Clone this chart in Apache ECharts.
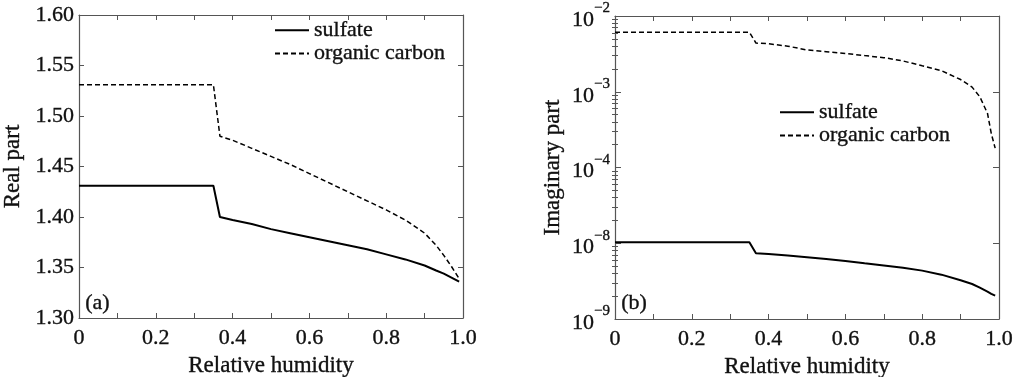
<!DOCTYPE html>
<html><head><meta charset="utf-8">
<script src="https://cdn.jsdelivr.net/npm/echarts@6/dist/echarts.min.js"></script>
<style>html,body{margin:0;padding:0;background:#fff}#c{width:1023px;height:377px}</style>
</head><body><div id="c"></div>
<script>
// Relative humidity (x)
const rh = [0, 0.35, 0.367, 0.4, 0.45, 0.5, 0.55, 0.6, 0.65, 0.7, 0.75, 0.8, 0.85, 0.9, 0.93, 0.95, 0.97, 0.98, 0.99];
// (a) real part
const sulfateReal = [1.431, 1.431, 1.400, 1.397, 1.393, 1.388, 1.384, 1.380, 1.376, 1.372, 1.368, 1.363, 1.358, 1.352, 1.347, 1.344, 1.340, 1.338, 1.336];
const organicReal = [1.531, 1.531, 1.480, 1.476, 1.468, 1.460, 1.452, 1.443, 1.434, 1.425, 1.416, 1.407, 1.397, 1.384, 1.372, 1.362, 1.351, 1.345, 1.339];
// (b) imaginary part
const sulfateImag = [1.03e-8, 1.03e-8, 7.4e-9, 7.2e-9, 6.9e-9, 6.55e-9, 6.2e-9, 5.85e-9, 5.45e-9, 5.1e-9, 4.75e-9, 4.35e-9, 3.85e-9, 3.25e-9, 2.9e-9, 2.6e-9, 2.3e-9, 2.15e-9, 2.03e-9];
const organicImag = [6.1e-3, 6.1e-3, 4.4e-3, 4.3e-3, 4.0e-3, 3.56e-3, 3.38e-3, 3.2e-3, 3.0e-3, 2.82e-3, 2.55e-3, 2.2e-3, 1.9e-3, 1.45e-3, 1.15e-3, 8.6e-4, 5.2e-4, 2.8e-4, 1.8e-4];
// tick labels (exponents) of the broken log axis in (b), bottom to top
const imagExponents = [-9, -8, -4, -3, -2];
const seriesNames = ['sulfate', 'organic carbon'];

// broken log axis: decades 1e-9..1e-8 then 1e-4..1e-2 placed right above
function pos(v) { const l = Math.log10(v); return l >= -4.5 ? l - 3 : l; }
const posMin = -9, posMax = -5;
function expAt(p) { return imagExponents[Math.round(p) - posMin]; }

const minorPos = [];
for (let d = posMin; d < posMax; d++) for (let k = 2; k <= 9; k++) minorPos.push(d + Math.log10(k));

const FONT = 'Liberation Serif';
const FS = 22;
const axisColor = '#555';
const heavy = {textBorderColor: '#111', textBorderWidth: 0.35};
const txt = Object.assign({fontFamily: FONT, fontSize: FS, color: '#111'}, heavy);
const nameTxt = Object.assign({}, txt, {fontSize: 23});

function xAxes(gi) {
  return [{
    type: 'value', gridIndex: gi, min: 0, max: 1, interval: 0.1, position: 'bottom',
    name: 'Relative humidity', nameLocation: 'middle', nameGap: 33,
    nameTextStyle: nameTxt,
    axisLine: {show: true, onZero: false, lineStyle: {color: axisColor, width: 1.2}},
    axisTick: {inside: true, length: 5, lineStyle: {color: axisColor}},
    axisLabel: Object.assign({margin: 9, formatter: v => { const t = Math.round(v * 10); return t % 2 ? '' : (t === 0 ? '0' : (t / 10).toFixed(1)); }}, txt),
    splitLine: {show: false}
  }, {
    type: 'value', gridIndex: gi, min: 0, max: 1, interval: 0.1, position: 'top',
    axisLine: {show: true, onZero: false, lineStyle: {color: axisColor, width: 1.2}},
    axisTick: {inside: true, length: 5, lineStyle: {color: axisColor}},
    axisLabel: {show: false}, splitLine: {show: false}
  }];
}

const legendBase = {orient: 'vertical', itemWidth: 34, itemHeight: 12, itemGap: 1, padding: 0,
  data: seriesNames, textStyle: Object.assign({}, txt), selectedMode: false,
  itemStyle: {color: 'rgba(0,0,0,0)', borderColor: 'rgba(0,0,0,0)', borderWidth: 0}};

const option = {
  animation: false,
  backgroundColor: '#fff',
  grid: [
    {left: 79, top: 15, width: 384, height: 303, outerBoundsMode: 'none', containLabel: false},
    {left: 615, top: 16, width: 384, height: 303, outerBoundsMode: 'none', containLabel: false}
  ],
  xAxis: [...xAxes(0), ...xAxes(1)],
  yAxis: [
    {
      type: 'value', gridIndex: 0, min: 1.30, max: 1.60, interval: 0.05, position: 'left',
      name: 'Real part', nameLocation: 'middle', nameGap: 55, nameRotate: 90,
      nameTextStyle: nameTxt,
      axisLine: {show: true, onZero: false, lineStyle: {color: axisColor, width: 1.2}},
      axisTick: {inside: true, length: 5, lineStyle: {color: axisColor}},
      axisLabel: Object.assign({margin: 5, formatter: v => v.toFixed(2)}, txt),
      splitLine: {show: false}
    },
    {
      type: 'value', gridIndex: 0, min: 1.30, max: 1.60, interval: 0.05, position: 'right',
      axisLine: {show: true, onZero: false, lineStyle: {color: axisColor, width: 1.2}},
      axisTick: {inside: true, length: 5, lineStyle: {color: axisColor}},
      axisLabel: {show: false}, splitLine: {show: false}
    },
    {
      type: 'value', gridIndex: 1, min: posMin, max: posMax, interval: 1, position: 'left',
      name: 'Imaginary part', nameLocation: 'middle', nameGap: 51, nameRotate: 90,
      nameTextStyle: nameTxt,
      axisLine: {show: true, onZero: false, lineStyle: {color: axisColor, width: 1.2}},
      axisTick: {inside: true, length: 6, lineStyle: {color: axisColor}},
      axisLabel: {margin: 5, fontFamily: FONT, color: '#111',
        formatter: v => '{b|10}{s|\u2212' + Math.abs(expAt(v)) + '}',
        rich: {b: Object.assign({fontFamily: FONT, fontSize: FS, color: '#111', padding: [8, 0, 0, 0]}, heavy),
               s: Object.assign({fontFamily: FONT, fontSize: 15, color: '#111', verticalAlign: 'top'}, heavy)}},
      splitLine: {show: false}
    },
    {
      type: 'value', gridIndex: 1, min: posMin, max: posMax, position: 'right',
      axisLine: {show: true, onZero: false, lineStyle: {color: axisColor, width: 1.2}},
      axisTick: {inside: true, length: 6, lineStyle: {color: axisColor}},
      axisLabel: {show: false}, splitLine: {show: false}
    },
    {
      type: 'value', gridIndex: 1, min: posMin, max: posMax, position: 'left',
      axisLine: {show: false},
      axisTick: {inside: true, length: 3, customValues: minorPos, lineStyle: {color: axisColor}},
      axisLabel: {show: false}, splitLine: {show: false}
    },
    {
      type: 'value', gridIndex: 1, min: posMin, max: posMax, position: 'right',
      axisLine: {show: false},
      axisTick: {inside: true, length: 3, customValues: minorPos, lineStyle: {color: axisColor}},
      axisLabel: {show: false}, splitLine: {show: false}
    }
  ],
  legend: [
    Object.assign({left: 274, top: 19}, legendBase),
    Object.assign({left: 779, top: 101}, legendBase)
  ],
  graphic: [
    {type: 'text', left: 85, top: 292, style: Object.assign({text: '(a)', font: FS + 'px "Liberation Serif"', fill: '#111', stroke: '#111', lineWidth: 0.35})},
    {type: 'text', left: 621, top: 292, style: Object.assign({text: '(b)', font: FS + 'px "Liberation Serif"', fill: '#111', stroke: '#111', lineWidth: 0.35})}
  ],
  series: [
    {name: seriesNames[0], type: 'line', xAxisIndex: 0, yAxisIndex: 0, symbol: 'none', showSymbol: false,
     lineStyle: {color: '#000', width: 2, type: 'solid'}, itemStyle: {color: '#000'},
     data: rh.map((x, i) => [x, sulfateReal[i]])},
    {name: seriesNames[1], type: 'line', xAxisIndex: 0, yAxisIndex: 0, symbol: 'none', showSymbol: false,
     lineStyle: {color: '#000', width: 1.5, type: [5, 3]}, itemStyle: {color: '#000'},
     data: rh.map((x, i) => [x, organicReal[i]])},
    {name: seriesNames[0], type: 'line', xAxisIndex: 2, yAxisIndex: 2, symbol: 'none', showSymbol: false,
     lineStyle: {color: '#000', width: 2, type: 'solid'}, itemStyle: {color: '#000'},
     data: rh.map((x, i) => [x, pos(sulfateImag[i])])},
    {name: seriesNames[1], type: 'line', xAxisIndex: 2, yAxisIndex: 2, symbol: 'none', showSymbol: false,
     lineStyle: {color: '#000', width: 1.5, type: [5, 3]}, itemStyle: {color: '#000'},
     data: rh.map((x, i) => [x, pos(organicImag[i])])}
  ]
};
echarts.init(document.getElementById('c'), null, {renderer: 'canvas'}).setOption(option);
</script>
</body></html>
